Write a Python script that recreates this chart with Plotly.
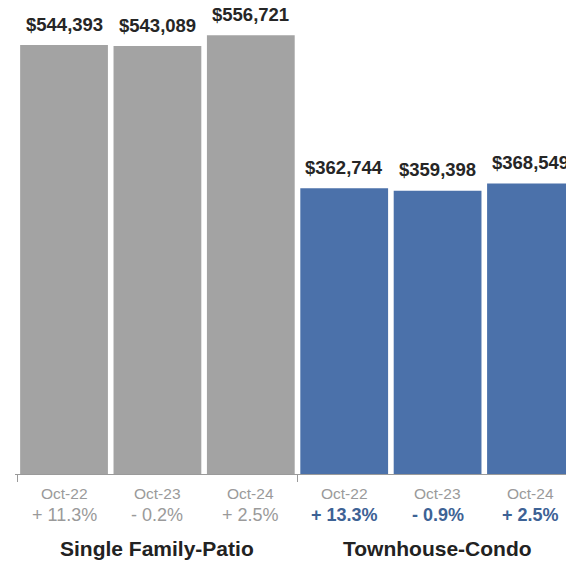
import plotly.graph_objects as go

periods = ["Oct-22", "Oct-23", "Oct-24", "Oct-22", "Oct-23", "Oct-24"]
groups = ["Single Family-Patio", "Townhouse-Condo"]
values = [544393, 543089, 556721, 362744, 359398, 368549]
value_labels = ["$544,393", "$543,089", "$556,721", "$362,744", "$359,398", "$368,549"]
changes = ["+ 11.3%", "- 0.2%", "+ 2.5%", "+ 13.3%", "- 0.9%", "+ 2.5%"]
group_of_bar = [0, 0, 0, 1, 1, 1]

GRAY = "#a3a3a3"
BLUE = "#4b71aa"
FONT = "Liberation Sans, Arial, sans-serif"

xs = list(range(len(values)))
bar_colors = [GRAY if g == 0 else BLUE for g in group_of_bar]

fig = go.Figure()
fig.add_trace(go.Bar(x=xs, y=values, marker=dict(color=bar_colors, line=dict(width=0)),
                     hoverinfo="skip", showlegend=False))

ann = []
for i, v in enumerate(values):
    ann.append(dict(x=i, y=v, xref="x", yref="y", text="<b>" + value_labels[i] + "</b>",
                    showarrow=False, yanchor="middle", yshift=21,
                    font=dict(family=FONT, size=18.5, color="#262626")))
    ann.append(dict(x=i, y=0, xref="x", yref="y", text=periods[i], showarrow=False,
                    yanchor="middle", yshift=-19,
                    font=dict(family=FONT, size=15.5, color="#9a9a9a")))
    if group_of_bar[i] == 0:
        ann.append(dict(x=i, y=0, xref="x", yref="y", text=changes[i], showarrow=False,
                        yanchor="middle", yshift=-41,
                        font=dict(family=FONT, size=18, color="#9a9a9a")))
    else:
        ann.append(dict(x=i, y=0, xref="x", yref="y", text="<b>" + changes[i] + "</b>",
                        showarrow=False, yanchor="middle", yshift=-41,
                        font=dict(family=FONT, size=18, color="#3d6295")))
for gi, name in enumerate(groups):
    idx = [i for i, g in enumerate(group_of_bar) if g == gi]
    cx = sum(idx) / len(idx)
    ann.append(dict(x=cx, y=0, xref="x", yref="y", text="<b>" + name + "</b>",
                    showarrow=False, yanchor="middle", yshift=-74,
                    font=dict(family=FONT, size=21, color="#222222")))

xr = [-0.525, 5.375]
fig.update_layout(
    width=566, height=561,
    margin=dict(l=15, r=0, t=0, b=87),
    paper_bgcolor="white", plot_bgcolor="white",
    bargap=0.06,
    annotations=ann,
    xaxis=dict(range=xr, showticklabels=False, ticks="", showgrid=False, zeroline=False,
               showline=True, linecolor="#9a9a9a", linewidth=1),
    xaxis2=dict(range=xr, overlaying="x", side="bottom", anchor="y",
                tickmode="array", tickvals=[-0.5, 2.5], ticks="outside", ticklen=7,
                tickcolor="#9a9a9a", showticklabels=False, showgrid=False, zeroline=False),
    yaxis=dict(range=[0, 601500], visible=False, showgrid=False, zeroline=False),
)
fig.add_trace(go.Scatter(x=[None], y=[None], xaxis="x2", showlegend=False, hoverinfo="skip"))

fig.write_html("out.html")
